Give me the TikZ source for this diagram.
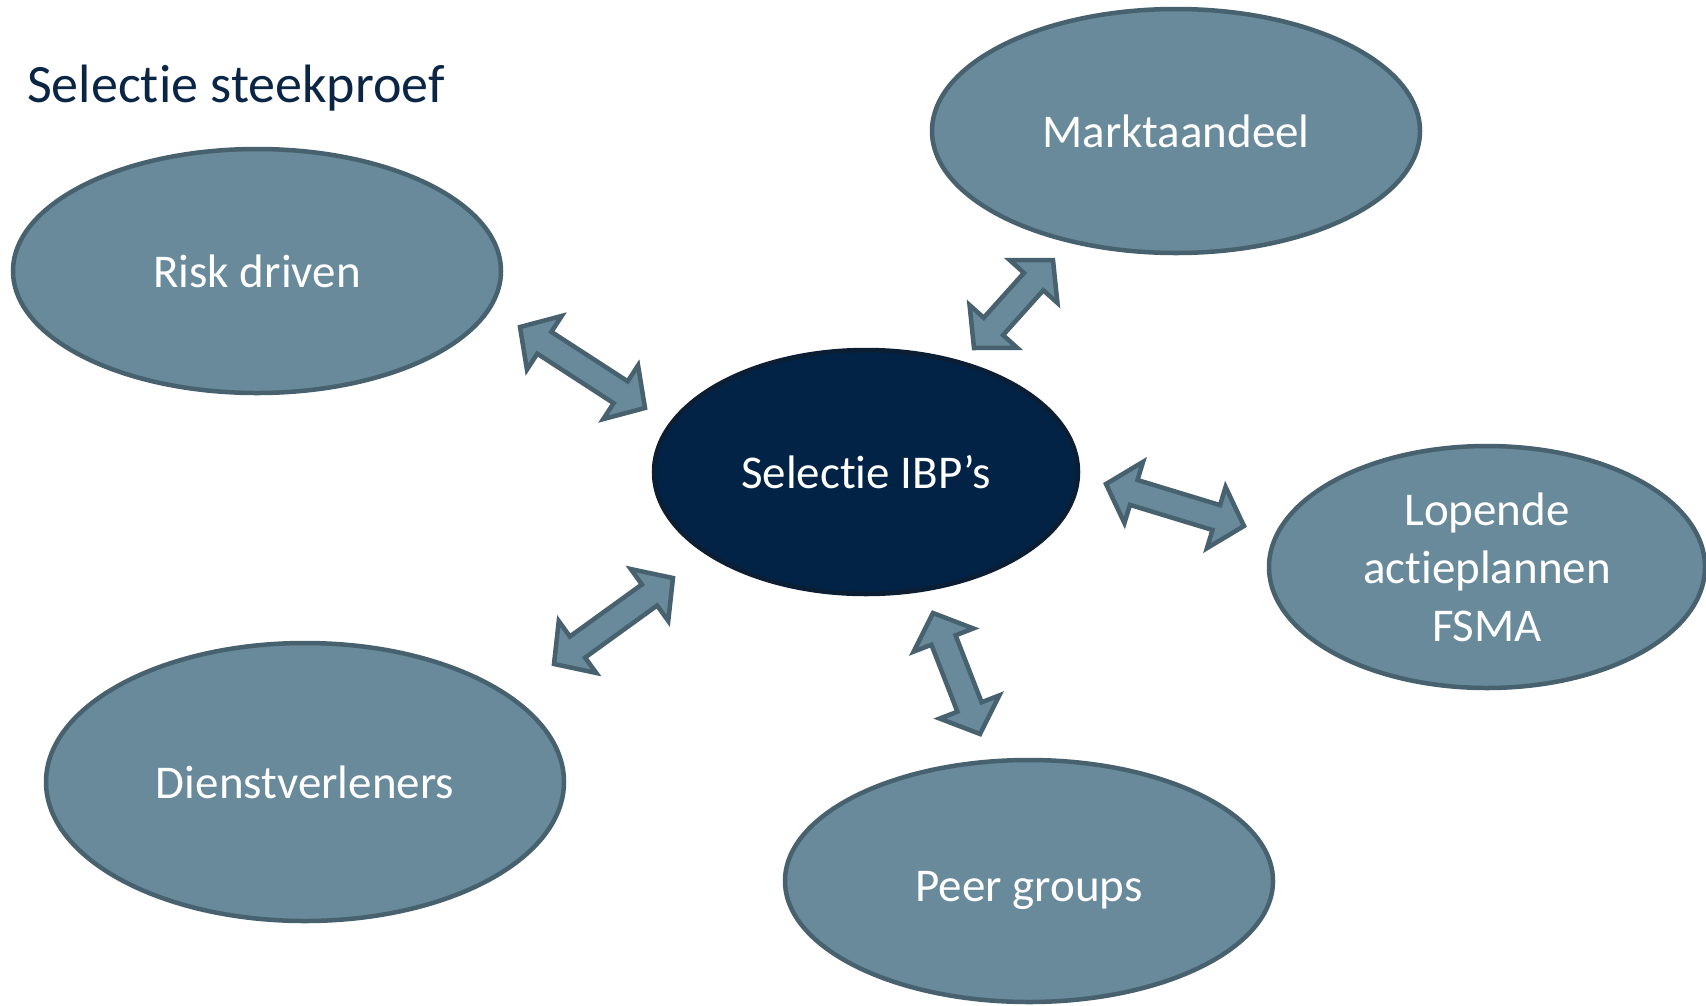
\documentclass[tikz,border=0pt]{standalone}
\usepackage{fontspec}
\setmainfont{Carlito}[Ligatures={NoCommon,NoContextual,NoRare},RawFeature={-liga;-clig;-calt;-dlig}]
\usetikzlibrary{calc,shapes.geometric}

\definecolor{bubblefill}{HTML}{688A9A}
\definecolor{bubbleline}{HTML}{48616E}
\definecolor{corefill}{HTML}{022345}
\definecolor{coreline}{HTML}{0B1E33}
\definecolor{titleblue}{HTML}{0B2545}

% block arrow with a head at both ends
\newcommand{\dblarrow}[2]{%
	\path ($(#1)!29pt!(#2)$) coordinate (p) ($(#2)!29pt!(#1)$) coordinate (q);
	\draw[arrowbox] (#1) -- ($(p)!32pt!90:(#1)$) -- ($(p)!13pt!90:(#1)$)
	  -- ($(q)!13pt!-90:(#2)$) -- ($(q)!32pt!-90:(#2)$) -- (#2)
	  -- ($(q)!32pt!90:(#2)$) -- ($(q)!13pt!90:(#2)$)
	  -- ($(p)!13pt!-90:(#1)$) -- ($(p)!32pt!-90:(#1)$) -- cycle;}

\begin{document}
\begin{tikzpicture}
	 [x=1pt,y=-1pt,
	  bubble/.style={ellipse,fill=bubblefill,draw=bubbleline,line width=4.5pt,inner sep=0pt,
	    text=white,font=\fontsize{47}{58}\selectfont,align=center},
	  arrowbox/.style={fill=bubblefill,draw=bubbleline,line width=4.5pt,line join=miter}]

	\useasboundingbox (0,0) rectangle (1706,1005);

	  \node[anchor=base west,inner sep=0pt,text=titleblue,font=\fontsize{54}{60}\selectfont] (title) at (27,102) {Selectie steekproef};

	  \node[bubble,minimum width=488,minimum height=244] (risk) at (257,271) {Risk driven};
	  \node[bubble,minimum width=488,minimum height=244] (markt) at (1176,131) {Marktaandeel};
	  \node[bubble,minimum width=424,minimum height=244,fill=corefill,draw=coreline] (ibp) at (866,472) {Selectie IBP’s};
	  \node[bubble,minimum width=436,minimum height=242] (lopende) at (1487,567) {Lopende\\actieplannen\\FSMA};
	  \node[bubble,minimum width=518,minimum height=278] (dienst) at (305,782) {Dienstverleners};
	  \node[bubble,minimum width=488,minimum height=242,text height=40pt,text depth=0pt] (peer) at (1029,881) {Peer groups};

	  \coordinate (a1) at (520,327);
	  \coordinate (b1) at (645,408);
	  \coordinate (a2) at (1053,260);
	  \coordinate (b2) at (974,348);
	  \coordinate (a3) at (1106,484);
	  \coordinate (b3) at (1244,526);
	  \coordinate (a4) at (933,613);
	  \coordinate (b4) at (980,734);
	  \coordinate (a5) at (673,578);
	  \coordinate (b5) at (554,664);

	\foreach \from/\to in {a1/b1,a2/b2,a3/b3,a4/b4,a5/b5}
	  \dblarrow{\from}{\to};

\end{tikzpicture}
\end{document}
